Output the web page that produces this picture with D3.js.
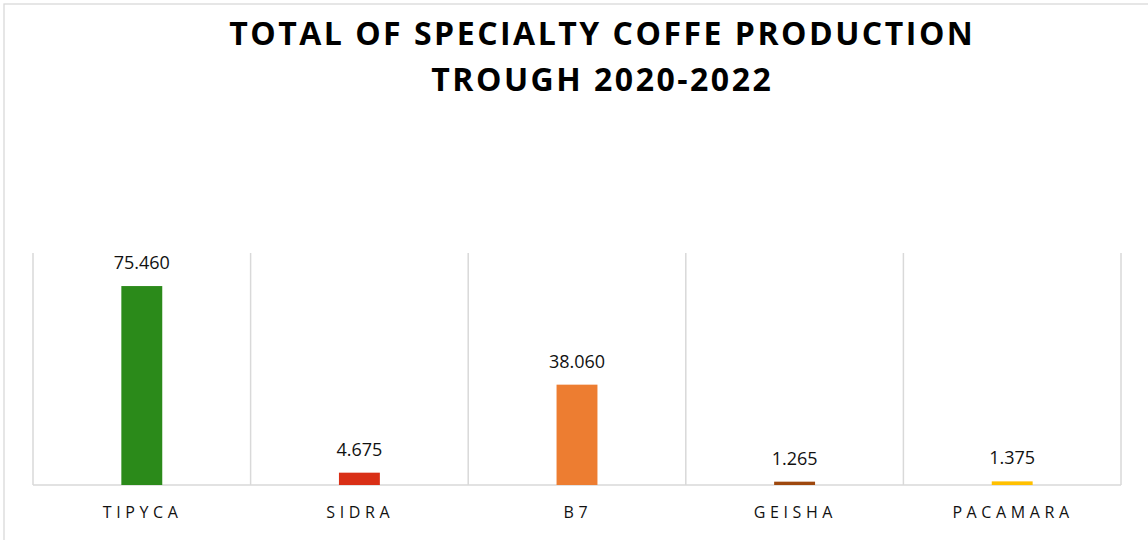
<!DOCTYPE html>
<html>
<head>
<meta charset="utf-8">
<script src="https://cdn.jsdelivr.net/npm/d3@7"></script>
<style>
  html, body { margin: 0; padding: 0; background: #fff; }
  svg { display: block; }
</style>
</head>
<body>
<svg id="chart" width="1148" height="540"></svg>
<script>
// Specialty coffee production totals, 2020-2022
const varieties = ["TIPYCA", "SIDRA", "B7", "GEISHA", "PACAMARA"];
const production = [75460, 4675, 38060, 1265, 1375];
const barColors = ["#2B8A1A", "#D92F16", "#ED7D31", "#9E480E", "#FFC000"];
const titleLines = ["TOTAL OF SPECIALTY COFFE PRODUCTION", "TROUGH 2020-2022"];
const yDomain = [0, 88000];

const W = 1148, H = 540;
const plot = { left: 33, right: 1121, top: 253, bottom: 485 };

const svg = d3.select("#chart");

// chart frame
svg.append("rect")
  .attr("x", 4).attr("y", 4)
  .attr("width", W + 10).attr("height", H + 10)
  .attr("fill", "#fff")
  .attr("stroke", "#D9D9D9").attr("stroke-width", 1.3);

// title
const titleSpacing = 2.5;
svg.append("g").selectAll("text")
  .data(titleLines)
  .join("text")
  .attr("x", 601 + titleSpacing / 2)
  .attr("y", (d, i) => 45 + i * 46)
  .attr("text-anchor", "middle")
  .attr("font-family", "'Open Sans', sans-serif")
  .attr("font-weight", 700)
  .attr("font-size", 32)
  .attr("letter-spacing", titleSpacing)
  .attr("fill", "#000")
  .text(d => d);

const x = d3.scaleBand()
  .domain(varieties)
  .range([plot.left, plot.right])
  .paddingInner(0).paddingOuter(0);

const y = d3.scaleLinear()
  .domain(yDomain)
  .range([plot.bottom, plot.top]);

// vertical category gridlines
const bounds = varieties.map(v => x(v)).concat([plot.right]);
svg.append("g").selectAll("line")
  .data(bounds)
  .join("line")
  .attr("x1", d => d).attr("x2", d => d)
  .attr("y1", plot.top).attr("y2", plot.bottom)
  .attr("stroke", "#D9D9D9").attr("stroke-width", 1.5);

// category axis line
svg.append("line")
  .attr("x1", plot.left).attr("x2", plot.right)
  .attr("y1", plot.bottom).attr("y2", plot.bottom)
  .attr("stroke", "#D9D9D9").attr("stroke-width", 1.5);

const barW = x.bandwidth() * 0.188;

// bars
svg.append("g").selectAll("rect")
  .data(varieties)
  .join("rect")
  .attr("x", (d) => x(d) + x.bandwidth() / 2 - barW / 2)
  .attr("width", barW)
  .attr("y", (d, i) => y(production[i]))
  .attr("height", (d, i) => y(0) - y(production[i]))
  .attr("fill", (d, i) => barColors[i]);

// value labels (dot as thousands separator)
const fmt = d3.formatLocale({ decimal: ",", thousands: ".", grouping: [3], currency: ["", ""] }).format(",d");
svg.append("g").selectAll("text")
  .data(varieties)
  .join("text")
  .attr("x", d => x(d) + x.bandwidth() / 2)
  .attr("y", (d, i) => y(production[i]) - 17)
  .attr("text-anchor", "middle")
  .attr("font-family", "'Open Sans', sans-serif")
  .attr("font-size", 18)
  .attr("fill", "#111")
  .text((d, i) => fmt(production[i]));

// category labels
const labelSpacing = 4.6;
const xAxis = d3.axisBottom(x).tickSize(0).tickPadding(0);
const axisG = svg.append("g")
  .attr("transform", `translate(0,${plot.bottom})`)
  .call(xAxis);
axisG.select(".domain").remove();
axisG.selectAll("text")
  .attr("dy", 0)
  .attr("y", 33)
  .attr("font-family", "'Open Sans', sans-serif")
  .attr("font-size", 16)
  .attr("letter-spacing", labelSpacing)
  .attr("fill", "#111")
  .attr("dx", labelSpacing / 2 - 1.5);
</script>
</body>
</html>
